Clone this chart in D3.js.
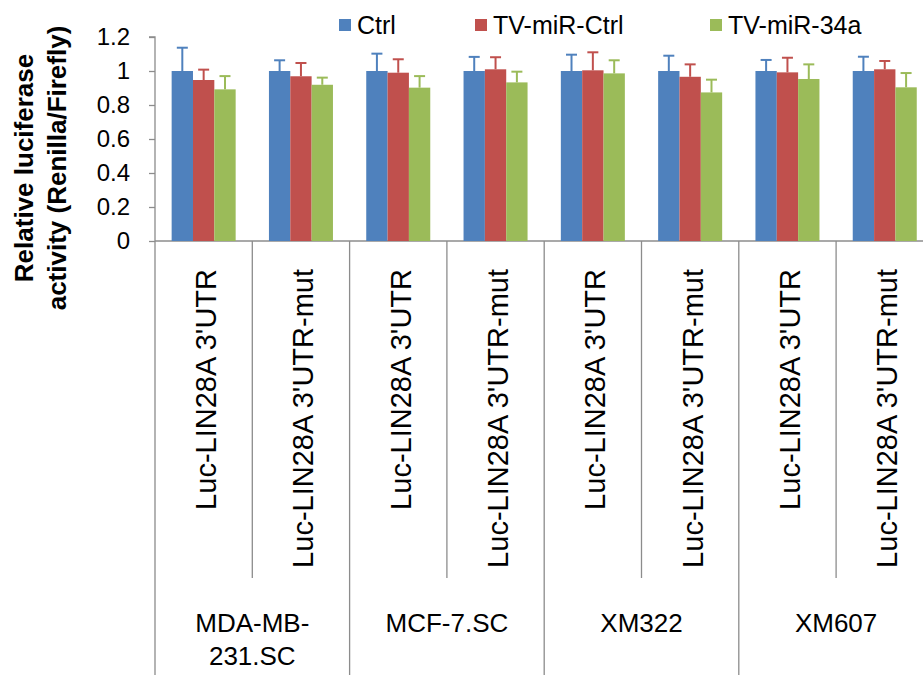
<!DOCTYPE html>
<html>
<head>
<meta charset="utf-8">
<script src="https://cdn.jsdelivr.net/npm/d3@7"></script>
<style>
  body { margin: 0; background: #fff; }
  text { font-family: "Liberation Sans", Arial, sans-serif; fill: #000; }
</style>
</head>
<body>
<div id="chart"></div>
<script>
// chart data
const categories = ["Luc-LIN28A 3'UTR", "Luc-LIN28A 3'UTR-mut",
                    "Luc-LIN28A 3'UTR", "Luc-LIN28A 3'UTR-mut",
                    "Luc-LIN28A 3'UTR", "Luc-LIN28A 3'UTR-mut",
                    "Luc-LIN28A 3'UTR", "Luc-LIN28A 3'UTR-mut"];
const groups = [["MDA-MB-", "231.SC"], ["MCF-7.SC"], ["XM322"], ["XM607"]];
const series = ["Ctrl", "TV-miR-Ctrl", "TV-miR-34a"];
const ctrlValues = [1, 1, 1, 1, 1, 1, 1, 1];
const ctrlErrors = [0.137, 0.063, 0.102, 0.083, 0.096, 0.09, 0.065, 0.084];
const tvCtrlValues = [0.947, 0.969, 0.99, 1.01, 1.004, 0.966, 0.992, 1.01];
const tvCtrlErrors = [0.061, 0.078, 0.079, 0.071, 0.106, 0.073, 0.086, 0.049];
const tv34aValues = [0.892, 0.919, 0.902, 0.933, 0.986, 0.874, 0.953, 0.904];
const tv34aErrors = [0.078, 0.042, 0.068, 0.063, 0.077, 0.075, 0.086, 0.084];
const yTicks = [0, 0.2, 0.4, 0.6, 0.8, 1, 1.2];

const colors = ["#4f81bd", "#c0504d", "#9bbb59"];
const allValues = [ctrlValues, tvCtrlValues, tv34aValues];
const allErrors = [ctrlErrors, tvCtrlErrors, tv34aErrors];

// build rows: one per bar
var bars = [];
categories.forEach(function(c, i) {
    series.forEach(function(s, j) {
        bars.push({cat: i, s: s, j: j, v: allValues[j][i], e: allErrors[j][i]});
    });
});

var svg = d3.select("#chart").append("svg")
    .attr("width", 923)
    .attr("height", 675);

var left = 155, bottom = 241;

var x = d3.scaleBand()
    .domain(d3.range(categories.length))
    .range([left, left + 8 * 97.3]);

var xs = d3.scaleBand()
    .domain(series)
    .range([0, x.bandwidth()])
    .paddingOuter(0.78);

var y = d3.scaleLinear()
    .domain([0, 1.2])
    .range([bottom, 37]);

var axisColor = "#8c8c8c";

// y axis
var yAxis = svg.append("g")
    .attr("transform", "translate(" + left + ",0)")
    .call(d3.axisLeft(y).tickValues(yTicks).tickSize(6).tickPadding(19)
        .tickFormat(function(d) { return d3.format("")(+d.toFixed(1)); }));
yAxis.select(".domain").attr("stroke", axisColor).attr("stroke-width", 1.3)
    .attr("d", "M-6," + y(1.2) + "H0V675");
yAxis.selectAll(".tick line").attr("stroke", axisColor).attr("stroke-width", 1.3);
yAxis.selectAll(".tick text")
    .style("font-size", "24px")
    .attr("fill", "#000");

// x axis line and dividers
svg.append("line")
    .attr("x1", left).attr("x2", x.range()[1])
    .attr("y1", bottom).attr("y2", bottom)
    .attr("stroke", axisColor).attr("stroke-width", 1.3);

svg.append("g")
    .selectAll("line")
    .data(d3.range(1, categories.length + 1))
    .enter()
    .append("line")
        .attr("x1", function(d) { return x(0) + d * x.step(); })
        .attr("x2", function(d) { return x(0) + d * x.step(); })
        .attr("y1", bottom)
        .attr("y2", function(d) { return d % 2 == 0 ? 675 : 578; })
        .attr("stroke", axisColor)
        .attr("stroke-width", 1.3);

// bars
svg.append("g")
    .selectAll("rect")
    .data(bars)
    .enter()
    .append("rect")
        .attr("x", function(d) { return x(d.cat) + xs(d.s); })
        .attr("y", function(d) { return y(d.v); })
        .attr("width", xs.bandwidth())
        .attr("height", function(d) { return y(0) - y(d.v); })
        .attr("fill", function(d) { return colors[d.j]; });

// error bars (upper only)
var err = svg.append("g").selectAll("g")
    .data(bars)
    .enter()
    .append("g")
        .attr("stroke", function(d) { return colors[d.j]; })
        .attr("stroke-width", 2);
err.append("line")
    .attr("x1", function(d) { return x(d.cat) + xs(d.s) + xs.bandwidth() / 2; })
    .attr("x2", function(d) { return x(d.cat) + xs(d.s) + xs.bandwidth() / 2; })
    .attr("y1", function(d) { return y(d.v); })
    .attr("y2", function(d) { return y(d.v + d.e); });
err.append("line")
    .attr("x1", function(d) { return x(d.cat) + xs(d.s) + xs.bandwidth() / 2 - 5.5; })
    .attr("x2", function(d) { return x(d.cat) + xs(d.s) + xs.bandwidth() / 2 + 5.5; })
    .attr("y1", function(d) { return y(d.v + d.e); })
    .attr("y2", function(d) { return y(d.v + d.e); });

// rotated category labels
svg.append("g")
    .selectAll("text")
    .data(categories)
    .enter()
    .append("text")
        .attr("transform", function(d, i) {
            return "translate(" + (x(i) + x.bandwidth() / 2 + 2) + ",269) rotate(-90)";
        })
        .attr("text-anchor", "end")
        .attr("dy", "0.36em")
        .style("font-size", "29px")
        .text(function(d) { return d; });

// group labels
var gl = svg.append("g")
    .selectAll("text")
    .data(groups)
    .enter()
    .append("text")
        .attr("x", function(d, i) { return x(i * 2) + x.step(); })
        .attr("y", 632)
        .attr("text-anchor", "middle")
        .style("font-size", "26px");
gl.selectAll("tspan")
    .data(function(d) { return d; })
    .enter()
    .append("tspan")
        .attr("x", function() { return this.parentNode.getAttribute("x"); })
        .attr("dy", function(d, i) { return i == 0 ? 0 : 33; })
        .text(function(d) { return d; });

// y axis title
var title = svg.append("text")
    .attr("transform", "translate(0,168) rotate(-90)")
    .attr("text-anchor", "middle")
    .style("font-size", "26px")
    .style("font-weight", "bold");
title.append("tspan").attr("x", 0).attr("y", 33).text("Relative luciferase");
title.append("tspan").attr("x", 0).attr("y", 66).text("activity (Renilla/Firefly)");

// legend
var legendX = [339, 475, 710];
var lg = svg.append("g")
    .selectAll("g")
    .data(series)
    .enter()
    .append("g")
        .attr("transform", function(d, i) { return "translate(" + legendX[i] + ",19)"; });
lg.append("rect")
    .attr("width", 12)
    .attr("height", 12)
    .attr("fill", function(d, i) { return colors[i]; });
lg.append("text")
    .attr("x", 18)
    .attr("y", 15)
    .style("font-size", "25px")
    .text(function(d) { return d; });
</script>
</body>
</html>
